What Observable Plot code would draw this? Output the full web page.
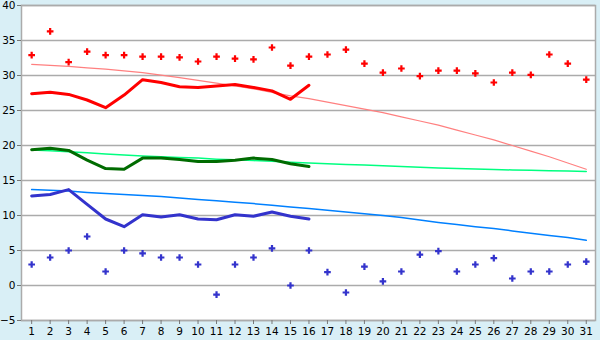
<!DOCTYPE html>
<html>
<head>
<meta charset="utf-8">
<script src="https://cdn.jsdelivr.net/npm/d3@7"></script>
<script src="https://cdn.jsdelivr.net/npm/@observablehq/plot@0.6"></script>
<style>
  html, body { margin: 0; padding: 0; background: #D9EFF6; }
  #chart svg { display: block; }
</style>
</head>
<body>
<div id="chart"></div>
<script>
const days = d3.range(1, 32);
const yTicks = [-5, 0, 5, 10, 15, 20, 25, 30, 35, 40];

// Red scatter points (one per day)
const redPoints = [32.9, 36.3, 31.9, 33.4, 32.9, 32.9, 32.7, 32.7, 32.6, 32.0,
  32.7, 32.4, 32.3, 34.0, 31.4, 32.7, 33.0, 33.7, 31.7, 30.4,
  31.0, 29.9, 30.7, 30.7, 30.3, 29.0, 30.4, 30.1, 33.0, 31.7, 29.4];
// Red thick line (days 1-16)
const redLine = [27.4, 27.6, 27.3, 26.5, 25.4, 27.2, 29.4, 29.0, 28.4, 28.3,
  28.5, 28.7, 28.3, 27.8, 26.6, 28.6];
// Red thin trend
const redTrend = [31.6, 31.45, 31.3, 31.1, 30.9, 30.65, 30.4, 30.05, 29.7, 29.3,
  28.9, 28.5, 28.1, 27.6, 27.1, 26.7, 26.2, 25.7, 25.2, 24.7,
  24.1, 23.5, 22.9, 22.2, 21.5, 20.8, 20.0, 19.2, 18.4, 17.5, 16.6];
// Green thick line (days 1-16)
const greenLine = [19.4, 19.6, 19.3, 17.9, 16.7, 16.6, 18.2, 18.2, 18.0, 17.7,
  17.7, 17.9, 18.2, 18.0, 17.4, 17.0];
// Green thin trend
const greenTrend = [19.35, 19.25, 19.1, 18.95, 18.8, 18.65, 18.5, 18.4, 18.3, 18.2,
  18.05, 17.95, 17.85, 17.75, 17.6, 17.5, 17.4, 17.3, 17.2, 17.1,
  17.0, 16.9, 16.8, 16.72, 16.65, 16.58, 16.5, 16.45, 16.4, 16.35, 16.3];
// Blue thick line (days 1-16)
const blueLine = [12.8, 13.0, 13.7, 11.6, 9.5, 8.4, 10.1, 9.8, 10.1, 9.5,
  9.4, 10.1, 9.9, 10.5, 9.9, 9.5];
// Blue thin trend
const blueTrend = [13.7, 13.6, 13.5, 13.3, 13.15, 13.0, 12.85, 12.7, 12.5, 12.3,
  12.1, 11.9, 11.7, 11.45, 11.2, 11.0, 10.75, 10.5, 10.25, 10.0,
  9.7, 9.35, 9.0, 8.7, 8.4, 8.15, 7.8, 7.45, 7.15, 6.85, 6.45];
// Blue scatter points
const bluePoints = [3.0, 4.0, 5.0, 7.0, 2.0, 5.0, 4.6, 4.0, 4.0, 3.0,
  -1.3, 3.0, 4.0, 5.3, 0.0, 5.0, 1.9, -1.0, 2.7, 0.6,
  2.0, 4.4, 4.9, 2.0, 3.0, 3.9, 1.0, 2.0, 2.0, 3.0, 3.4];

const series = (arr) => arr.map((v, i) => ({day: days[i], v}));

const chart = Plot.plot({
  width: 600,
  height: 340,
  marginLeft: 21,
  marginRight: 5,
  marginTop: 5,
  marginBottom: 20,
  style: {background: "transparent", fontFamily: "DejaVu Sans", fontSize: "10px", color: "#000"},
  x: {domain: [0.45, 31.5], label: null},
  y: {domain: [-5, 40], label: null},
  marks: [
    Plot.frame({fill: "white", stroke: null}),
    Plot.ruleY(yTicks, {stroke: "#ABABAB", strokeWidth: 1.5}),
    Plot.frame({stroke: "#ABABAB", strokeWidth: 1.5}),
    Plot.axisY({ticks: yTicks, label: null, tickSize: 4, tickPadding: 2, stroke: "#777", fill: "#000", fontSize: 10.5}),
    Plot.axisX({ticks: days, label: null, tickSize: 4, tickPadding: 3, stroke: "#777", fill: "#000", fontSize: 10.5, tickFormat: d => String(d)}),
    Plot.line(series(redTrend), {x: "day", y: "v", stroke: "#FF8080", strokeWidth: 1.2}),
    Plot.line(series(greenTrend), {x: "day", y: "v", stroke: "#00FF80", strokeWidth: 1.5}),
    Plot.line(series(blueTrend), {x: "day", y: "v", stroke: "#0080FF", strokeWidth: 1.5}),
    Plot.line(series(redLine), {x: "day", y: "v", stroke: "#FF0000", strokeWidth: 3}),
    Plot.line(series(greenLine), {x: "day", y: "v", stroke: "#006B00", strokeWidth: 3}),
    Plot.line(series(blueLine), {x: "day", y: "v", stroke: "#3333CC", strokeWidth: 3}),
    Plot.dot(series(redPoints), {x: "day", y: "v", symbol: "cross", r: 2.8, fill: "#FF0000"}),
    Plot.dot(series(bluePoints), {x: "day", y: "v", symbol: "cross", r: 2.8, fill: "#3333CC"})
  ]
});
document.getElementById("chart").appendChild(chart);
</script>
</body>
</html>
